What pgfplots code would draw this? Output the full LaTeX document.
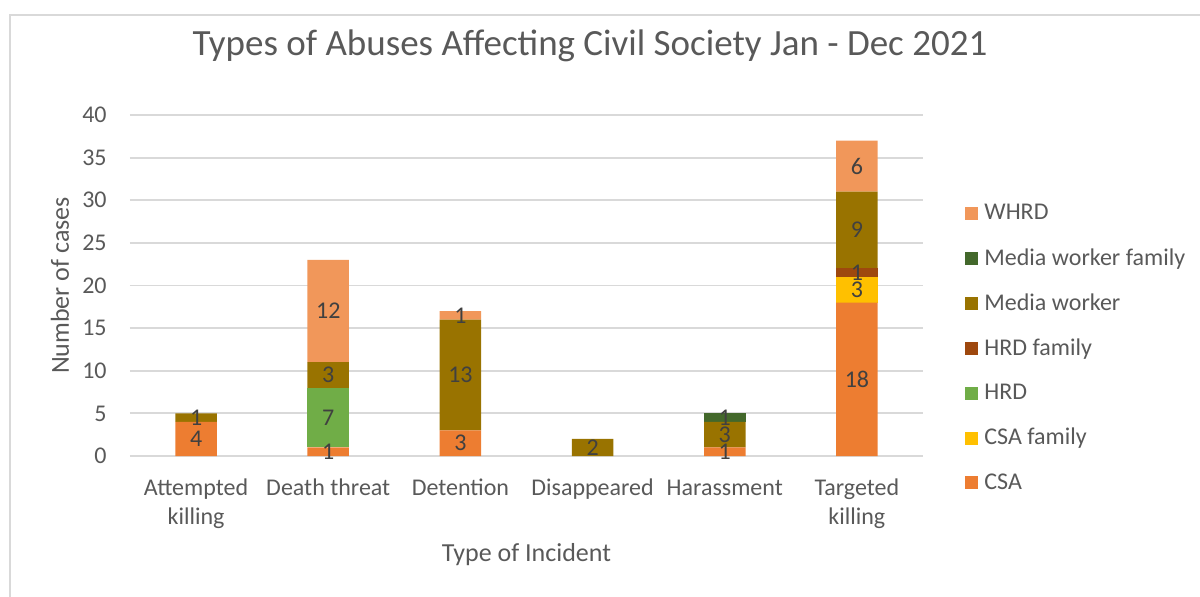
\documentclass[border=0pt]{standalone}
\usepackage{pgfplots}
\pgfplotsset{compat=1.18}
\usepackage{pgfplotstable}
\usepackage{fontspec}
\setmainfont{Carlito}
\definecolor{csa}{HTML}{ED7D31}
\definecolor{csaf}{HTML}{FFC000}
\definecolor{hrd}{HTML}{70AD47}
\definecolor{hrdf}{HTML}{9E480E}
\definecolor{mw}{HTML}{997300}
\definecolor{mwf}{HTML}{43682B}
\definecolor{whrd}{HTML}{F1975A}
\definecolor{txt}{HTML}{595959}
\definecolor{lbl}{HTML}{404040}
\definecolor{gridc}{HTML}{D9D9D9}
\pgfplotstableread{
x CSA CSAf HRD HRDf MW MWf WHRD
0 4 0 0 0 1 0 0
1 1 0 7 0 3 0 12
2 3 0 0 0 13 0 1
3 0 0 0 0 2 0 0
4 1 0 0 0 3 1 0
5 18 3 0 1 9 0 6
}\datatable
\newcommand{\seg}[3]{%
  \addplot[fill=#1, draw=none,
    visualization depends on={\thisrow{#2} \as \segval},
    nodes near coords={\ifdim\segval pt>0pt \pgfmathprintnumber{\segval}\fi},
    every node near coord/.append style={anchor=center, text=lbl, font=\fontsize{12}{14}\selectfont, inner sep=0pt}
  ] table[x=x, y=#2] {\datatable};
  \addlegendentry{#3}
}
\begin{document}
\begin{tikzpicture}
\useasboundingbox (0,0) rectangle (600pt,-298pt);
\draw[gridc, line width=0.75pt] (5pt,-300pt) -- (5pt,-7.5pt) -- (602pt,-7.5pt);
\node[text=txt, font=\fontsize{18.5}{22}\selectfont] at (295pt,-23pt) {Types of Abuses Affecting Civil Society Jan - Dec 2021};
\begin{axis}[
  at={(65pt,-228pt)}, anchor=south west,
  scale only axis, width=396.5pt, height=170.5pt,
  ybar stacked, bar width=20.75pt,
  xmin=-0.5, xmax=5.5, ymin=0, ymax=40,
  xtick={0,...,5},
  xticklabels={Attempted\\killing, Death threat, Detention, Disappeared, Harassment, Targeted\\killing},
  ytick={0,5,...,40},
  axis line style={draw=none},
  major tick length=0pt,
  ymajorgrids, grid style={gridc, line width=0.9pt},
  /pgf/number format/assume math mode=true,
  tick label style={text=txt, font=\fontsize{12}{14.5}\selectfont},
  yticklabel style={inner sep=0pt, anchor=east, xshift=-11.5pt},
  xticklabel style={align=center, inner sep=0pt, anchor=north, yshift=-11pt, execute at begin node=\vphantom{d}},
  xlabel={Type of Incident}, ylabel={Number of cases},
  label style={text=txt, font=\fontsize{13}{15}\selectfont},
  xlabel style={at={(axis description cs:0.5,0)}, anchor=center, yshift=-49.5pt},
  ylabel style={at={(axis description cs:0,0.5)}, anchor=center, yshift=35pt},
  reverse legend,
  legend cell align=left,
  legend image code/.code={\fill[#1] (0pt,-3.25pt) rectangle (6.5pt,3.25pt);},
  legend style={draw=none, at={(1.053,0.7507)}, anchor=north west, inner sep=0pt,
    text=txt, font=\fontsize{12}{14}\selectfont, row sep=8.8pt,
    nodes={inner xsep=3pt}},
]
\seg{csa}{CSA}{CSA}
\seg{csaf}{CSAf}{CSA family}
\seg{hrd}{HRD}{HRD}
\seg{hrdf}{HRDf}{HRD family}
\seg{mw}{MW}{Media worker}
\seg{mwf}{MWf}{Media worker family}
\seg{whrd}{WHRD}{WHRD}
\end{axis}
\end{tikzpicture}
\end{document}
